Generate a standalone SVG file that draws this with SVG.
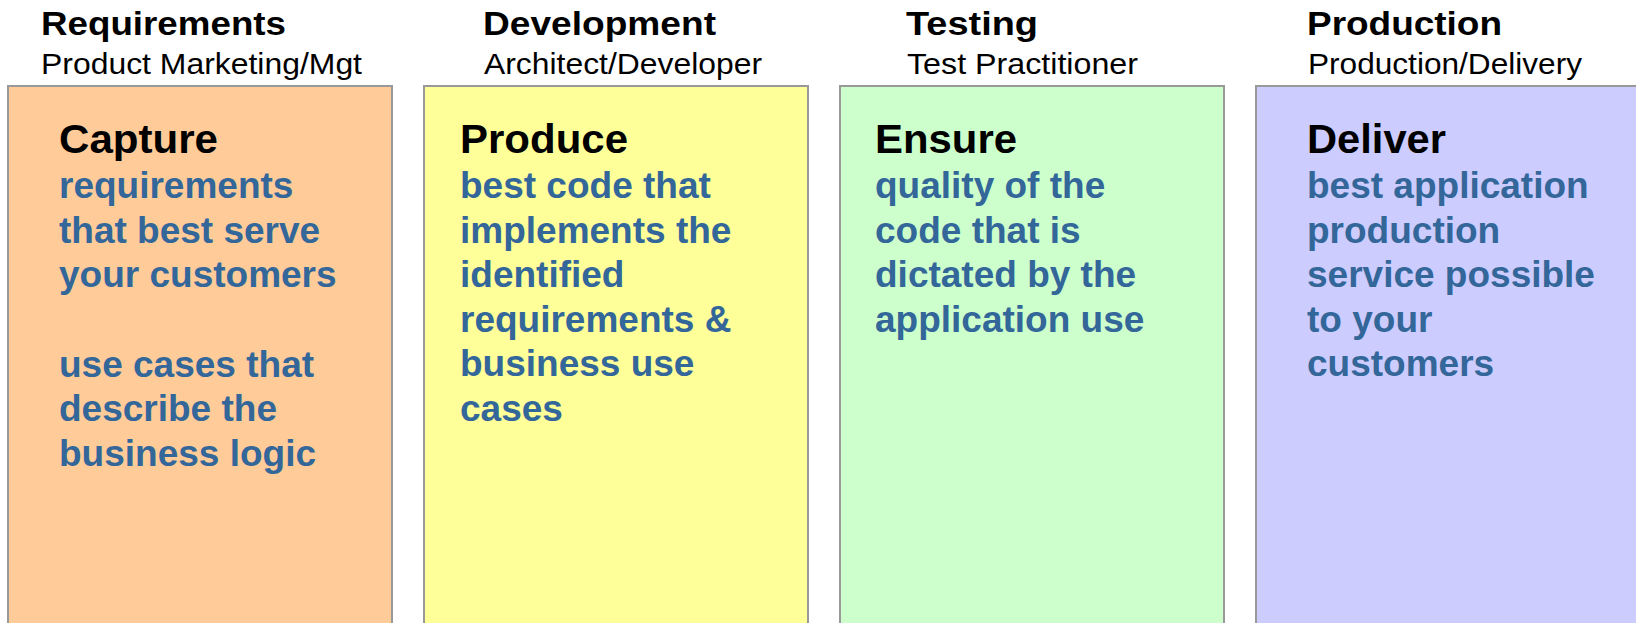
<svg xmlns="http://www.w3.org/2000/svg" width="1636" height="623" viewBox="0 0 1636 623">
<style>
.bg{fill:#ffffff}
.box{stroke:#999999;stroke-width:2}
.hd{font-family:"Liberation Sans",Arial,sans-serif;font-weight:bold;font-size:33px;fill:#000}
.sub{font-family:"Liberation Sans",Arial,sans-serif;font-size:30px;fill:#000}
.ttl{font-family:"Liberation Sans",Arial,sans-serif;font-weight:bold;font-size:40px;fill:#000}
.body{font-family:"Liberation Sans",Arial,sans-serif;font-weight:bold;font-size:37px;fill:#336699}
</style>
<rect class="bg" x="0" y="0" width="1636" height="623"/>
<g id="requirements">
<text class="hd" x="41" y="35" textLength="245" lengthAdjust="spacingAndGlyphs">Requirements</text>
<text class="sub" x="41" y="74" textLength="321" lengthAdjust="spacingAndGlyphs">Product Marketing/Mgt</text>
<rect class="box" x="8" y="86" width="384" height="580" fill="#FFCC99"/>
<text class="ttl" x="59" y="153" textLength="159" lengthAdjust="spacingAndGlyphs">Capture</text>
<text class="body" x="59" y="198.3">requirements</text>
<text class="body" x="59" y="242.8">that best serve</text>
<text class="body" x="59" y="287.3">your customers</text>
<text class="body" x="59" y="376.8">use cases that</text>
<text class="body" x="59" y="421.3">describe the</text>
<text class="body" x="59" y="465.8">business logic</text>
</g>
<g id="development">
<text class="hd" x="483" y="35" textLength="233" lengthAdjust="spacingAndGlyphs">Development</text>
<text class="sub" x="484" y="74" textLength="278" lengthAdjust="spacingAndGlyphs">Architect/Developer</text>
<rect class="box" x="424" y="86" width="384" height="580" fill="#FFFF99"/>
<text class="ttl" x="460" y="153" textLength="168" lengthAdjust="spacingAndGlyphs">Produce</text>
<text class="body" x="460" y="198.3">best code that</text>
<text class="body" x="460" y="242.8">implements the</text>
<text class="body" x="460" y="287.3">identified</text>
<text class="body" x="460" y="331.8">requirements &amp;</text>
<text class="body" x="460" y="376.3">business use</text>
<text class="body" x="460" y="420.8">cases</text>
</g>
<g id="testing">
<text class="hd" x="906" y="35" textLength="132" lengthAdjust="spacingAndGlyphs">Testing</text>
<text class="sub" x="907" y="74" textLength="231" lengthAdjust="spacingAndGlyphs">Test Practitioner</text>
<rect class="box" x="840" y="86" width="384" height="580" fill="#CCFFCC"/>
<text class="ttl" x="875" y="153" textLength="142" lengthAdjust="spacingAndGlyphs">Ensure</text>
<text class="body" x="875" y="198.3">quality of the</text>
<text class="body" x="875" y="242.8">code that is</text>
<text class="body" x="875" y="287.3">dictated by the</text>
<text class="body" x="875" y="331.8">application use</text>
</g>
<g id="production">
<text class="hd" x="1307" y="35" textLength="195" lengthAdjust="spacingAndGlyphs">Production</text>
<text class="sub" x="1308" y="74" textLength="274" lengthAdjust="spacingAndGlyphs">Production/Delivery</text>
<rect class="box" x="1256" y="86" width="400" height="580" fill="#CCCCFF"/>
<text class="ttl" x="1307" y="153" textLength="139" lengthAdjust="spacingAndGlyphs">Deliver</text>
<text class="body" x="1307" y="198.3">best application</text>
<text class="body" x="1307" y="242.8">production</text>
<text class="body" x="1307" y="287.3">service possible</text>
<text class="body" x="1307" y="331.8">to your</text>
<text class="body" x="1307" y="376.3">customers</text>
</g>
<g id="connectors"/>
</svg>
